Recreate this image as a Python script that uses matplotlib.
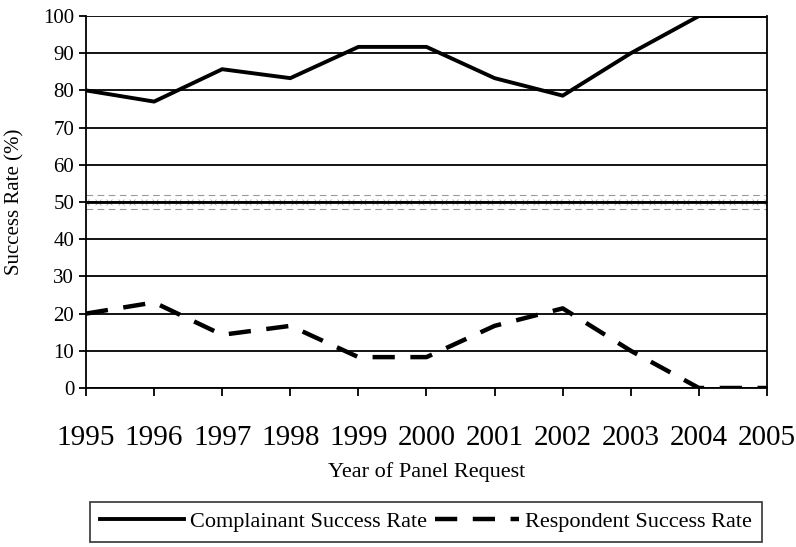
import matplotlib.pyplot as plt
import numpy as np

years = [1995, 1996, 1997, 1998, 1999, 2000, 2001, 2002, 2003, 2004, 2005]
complainant = [80, 77, 85.7, 83.3, 91.7, 91.7, 83.3, 78.6, 90, 100, 100]
respondent = [20, 23, 14.3, 16.7, 8.3, 8.3, 16.7, 21.4, 10, 0, 0]

plt.rcParams['font.family'] = ['Liberation Serif', 'DejaVu Serif']

fig = plt.figure(figsize=(7.96, 5.47), dpi=100)
ax = fig.add_axes([0.108, 0.2907, 0.8556, 0.68])

# grid lines
for v in range(0, 101, 10):
    ax.axhline(v, color='black', lw=1.3, zorder=1)

# faint band around 50
ax.axhline(52, color='#999999', lw=0.8, ls=(0, (6, 4)), zorder=1)
ax.axhline(48, color='#999999', lw=0.8, ls=(0, (6, 4)), zorder=1)
ax.plot(np.linspace(1995, 2005, 60), [50] * 60, ls='none', marker='x',
        ms=4, mew=0.6, color='#aaaaaa', zorder=1)
ax.axhline(50, color='black', lw=2, zorder=2)

ax.plot(years, complainant, color='black', lw=2.8, solid_joinstyle='miter',
        label='Complainant Success Rate', zorder=3)
ax.plot(years, respondent, color='black', lw=3.2, ls=(0, (5, 3.5)),
        label='Respondent Success Rate', zorder=3)

ax.set_xlim(1995, 2005)
ax.set_ylim(0, 100)
ax.set_xticks(years)
ax.set_xticklabels([str(y) for y in years], fontsize=21)
ax.set_yticks(range(0, 101, 10))
ax.tick_params(axis='y', labelsize=15, direction='out', length=5, width=1.3)
ax.tick_params(axis='x', direction='out', length=6, width=1.3, pad=21)
for s in ax.spines.values():
    s.set_linewidth(1.3)
ax.spines['top'].set_visible(False)

ax.set_ylabel('Success Rate (%)', fontsize=15)
ax.yaxis.set_label_coords(-0.09, 0.5)
ax.set_xlabel('Year of Panel Request', fontsize=16)
ax.xaxis.set_label_coords(0.5, -0.198)

leg = fig.legend(loc='center', bbox_to_anchor=(0.535, 0.046), ncol=2,
                 fontsize=16, frameon=True, fancybox=False, edgecolor='black',
                 handlelength=3.8, handletextpad=0.25, columnspacing=0.35,
                 borderpad=0.45, borderaxespad=0)
leg.get_frame().set_linewidth(1.2)

fig.savefig('out.png', dpi=100)
